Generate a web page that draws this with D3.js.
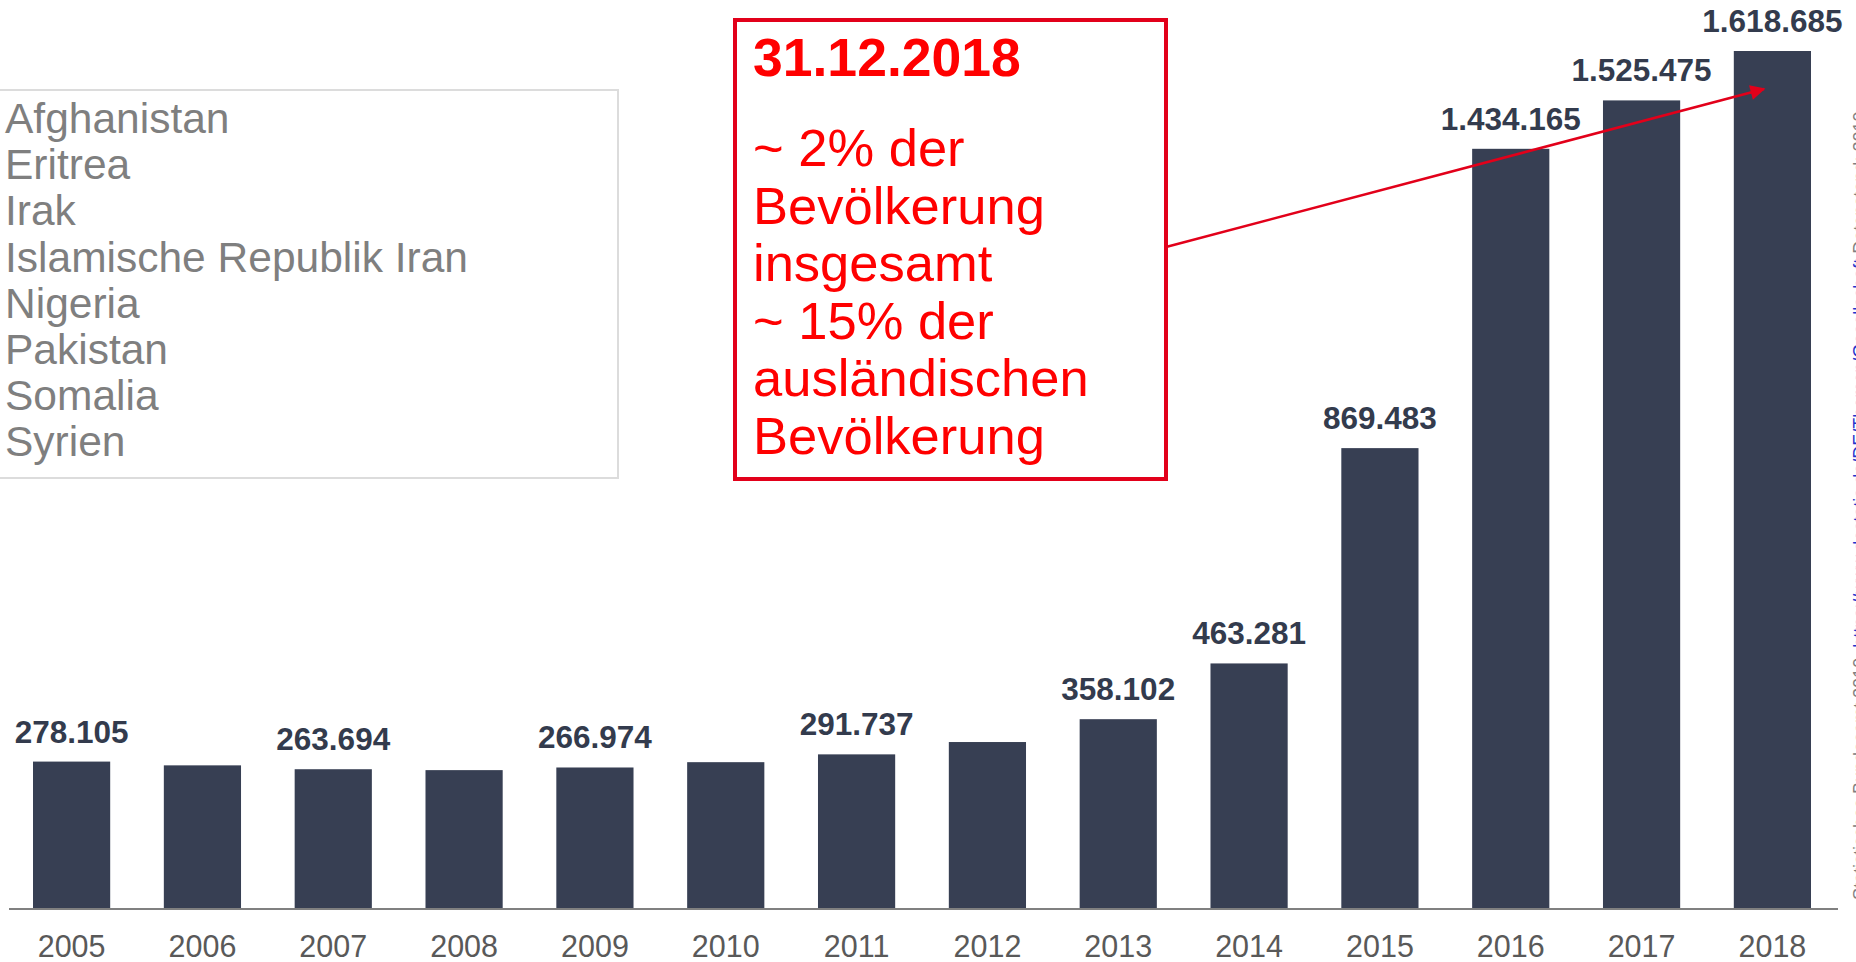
<!DOCTYPE html>
<html>
<head>
<meta charset="utf-8">
<script src="https://cdn.jsdelivr.net/npm/d3@7"></script>
<style>
  html, body { margin: 0; padding: 0; background: #fff; overflow: hidden; }
  svg { display: block; font-family: "Liberation Sans", Arial, sans-serif; }
</style>
</head>
<body>
<div id="chart"></div>
<script>
// 1: DATA
const years = ["2005", "2006", "2007", "2008", "2009", "2010", "2011",
               "2012", "2013", "2014", "2015", "2016", "2017", "2018"];
const persons = [278105, 271000, 263694, 262000, 266974, 277000, 291737,
                 315000, 358102, 463281, 869483, 1434165, 1525475, 1618685];
// which bars carry a value label
const labelled = [true, false, true, false, true, false, true,
                  false, true, true, true, true, true, true];
const countries = ["Afghanistan", "Eritrea", "Irak", "Islamische Republik Iran",
                   "Nigeria", "Pakistan", "Somalia", "Syrien"];
const noteTitle = "31.12.2018";
const noteLines = ["~ 2% der", "Bevölkerung", "insgesamt", "~ 15% der",
                   "ausländischen", "Bevölkerung"];

// 2: SIZE
const W = 1856, H = 962;
const svg = d3.select("#chart").append("svg")
    .attr("width", W)
    .attr("height", H);

const data = years.map((y, i) => ({ year: y, value: persons[i], label: labelled[i] }));

// 3: SCALES
const x = d3.scaleBand()
    .domain(years)
    .range([33, 1811])
    .paddingInner(0.41)
    .paddingOuter(0);

const y = d3.scaleLinear()
    .domain([0, d3.max(persons)])
    .range([909, 51]);

const fmt = d3.formatLocale({ decimal: ",", thousands: ".", grouping: [3], currency: ["", "€"] }).format(",d");

// 4: BARS
svg.selectAll("rect.bar")
    .data(data)
    .enter()
    .append("rect")
    .attr("class", "bar")
    .attr("x", d => x(d.year))
    .attr("y", d => y(d.value))
    .attr("width", x.bandwidth())
    .attr("height", d => y(0) - y(d.value))
    .style("fill", "#373f53");

// 5: VALUE LABELS
svg.selectAll("text.val")
    .data(data.filter(d => d.label))
    .enter()
    .append("text")
    .attr("class", "val")
    .attr("x", d => x(d.year) + x.bandwidth() / 2)
    .attr("y", d => y(d.value) - 19)
    .attr("text-anchor", "middle")
    .style("font-size", "31.5px")
    .style("font-weight", "bold")
    .style("fill", "#333b4d")
    .text(d => fmt(d.value));

// 6: X AXIS
const xAxis = svg.append("g")
    .attr("transform", `translate(0,${y(0)})`)
    .call(d3.axisBottom(x).tickSize(0).tickPadding(26));
xAxis.select(".domain")
    .attr("d", "M9,0H1838")
    .style("stroke", "#808080")
    .style("stroke-width", 2);
xAxis.selectAll("text")
    .style("font-size", "30.5px")
    .style("font-family", "Liberation Sans, Arial, sans-serif")
    .style("fill", "#595959");

// 7: COUNTRY BOX
svg.append("rect")
    .attr("x", -2)
    .attr("y", 90)
    .attr("width", 620)
    .attr("height", 388)
    .style("fill", "#fff")
    .style("stroke", "#dcdcdc")
    .style("stroke-width", 2);

svg.append("g").selectAll("text")
    .data(countries)
    .enter()
    .append("text")
    .attr("x", 5)
    .attr("y", (d, i) => 133 + i * 46.2)
    .style("font-size", "42.5px")
    .style("fill", "#7f7f7f")
    .text(d => d);

// 8: ANNOTATION BOX + ARROW
svg.append("defs").append("marker")
    .attr("id", "head")
    .attr("viewBox", "0 0 10 10")
    .attr("refX", 9)
    .attr("refY", 5)
    .attr("markerWidth", 7)
    .attr("markerHeight", 6)
    .attr("markerUnits", "strokeWidth")
    .attr("orient", "auto")
    .append("path")
    .attr("d", "M0,0L10,5L0,10Z")
    .style("fill", "#e2001a");

svg.append("line")
    .attr("x1", 1166)
    .attr("y1", 247)
    .attr("x2", 1764)
    .attr("y2", 89)
    .style("stroke", "#e2001a")
    .style("stroke-width", 2.5)
    .attr("marker-end", "url(#head)");

svg.append("rect")
    .attr("x", 735)
    .attr("y", 20)
    .attr("width", 431)
    .attr("height", 459)
    .style("fill", "#fff")
    .style("stroke", "#e2001a")
    .style("stroke-width", 4);

svg.append("text")
    .attr("x", 753)
    .attr("y", 76)
    .style("font-size", "53.5px")
    .style("font-weight", "bold")
    .style("fill", "#ff0000")
    .text(noteTitle);

svg.append("g").selectAll("text")
    .data(noteLines)
    .enter()
    .append("text")
    .attr("x", 753)
    .attr("y", (d, i) => 166 + i * 57.5)
    .style("font-size", "52.5px")
    .style("fill", "#ff0000")
    .text(d => d);

// 9: SOURCE (cut off at the right edge, as in the original)
const src = svg.append("text")
    .attr("transform", "translate(1866,900) rotate(-90)")
    .style("font-size", "18px")
    .style("fill", "#808080");
src.append("tspan").text("Statistisches Bundesamt 2019, ");
src.append("tspan").style("fill", "#2233cc")
    .text("https://www.destatis.de/DE/Themen/Gesellschaft");
src.append("tspan").text("    Datenstand: 2019");
</script>
</body>
</html>
